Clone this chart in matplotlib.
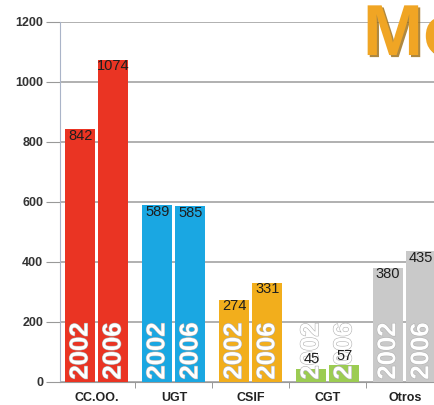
import matplotlib
matplotlib.use('Agg')
from matplotlib import pyplot as plt
import matplotlib.patheffects as pe
import numpy as np

# data
unions = ['CC.OO.', 'UGT', 'CSIF', 'CGT', 'Otros']
votes_2002 = [842, 589, 274, 45, 380]
votes_2006 = [1074, 585, 331, 57, 435]
years = ['2002', '2006']
colors = ['#ea3423', '#1aa7e2', '#f2ae1c', '#9ccc52', '#c9c9c9']

font = ['Liberation Sans', 'DejaVu Sans']

fig = plt.figure(figsize=(4.34, 4.05), dpi=100)
ax = fig.add_axes([60 / 434, 23 / 405, 374 / 434, 360 / 405])

x = np.arange(len(unions))
w = 0.39
off = 0.215

for i in range(len(unions)):
    for j, vals in enumerate([votes_2002, votes_2006]):
        xi = x[i] + (-off if j == 0 else off)
        v = vals[i]
        ax.bar(xi, v, width=w, color=colors[i], zorder=3)
        ax.text(xi, 8, years[j], rotation=90, ha='center', va='bottom',
                color='white', fontsize=18.5, fontweight='bold',
                family=font, zorder=4,
                path_effects=[pe.withStroke(linewidth=0.8, foreground='#b0b0b0')])
        if v < 100:
            ax.text(xi, v + 8, str(v), ha='center', va='bottom', fontsize=10.5,
                    color='#1e1e1e', family=font, zorder=5)
        else:
            ax.text(xi, v + 2, str(v), ha='center', va='top', fontsize=10.5,
                    color='#1e1e1e', family=font, zorder=5)

ax.set_ylim(0, 1200)
ax.set_xlim(-0.48, 4.38)
ax.set_yticks(range(0, 1201, 200))
ax.set_yticklabels([str(t) for t in range(0, 1201, 200)], family=font,
                   fontsize=9, fontweight='bold', color='#333333')
ax.set_xticks(x)
ax.set_xticklabels(unions, family=font, fontsize=9, fontweight='bold',
                   color='#222222')
ax.set_xticks(x[:-1] + 0.5, minor=True)
ax.tick_params(axis='x', which='major', length=0, pad=7)
ax.tick_params(axis='x', which='minor', length=4, color='#888888')
ax.tick_params(axis='y', length=10, color='#999999', pad=2)

ax.grid(axis='y', color='#b0b0b0', linewidth=1.4, zorder=1)
ax.spines['top'].set_visible(False)
ax.spines['right'].set_visible(False)
ax.spines['left'].set_color('#aab4c8')
ax.spines['bottom'].set_color('#999999')

# partial title, cut off at the right edge like the source image
fig.text(0.836, 0.995, 'Mo', fontsize=52, fontweight='bold', color='#f0a524',
         ha='left', va='top', family=font,
         path_effects=[pe.withSimplePatchShadow(offset=(1.5, -1.5), shadow_rgbFace='#9a6a10', alpha=0.8)])

plt.savefig('out.png', dpi=100)
